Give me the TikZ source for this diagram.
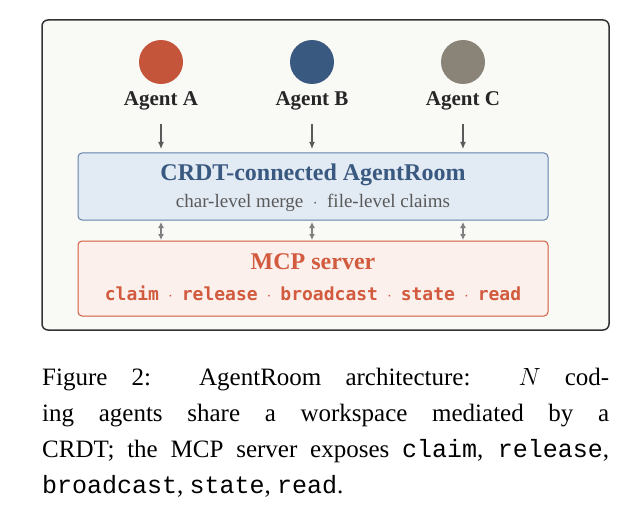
\documentclass[tikz,border=0pt]{standalone}
\usepackage{fontspec}
\setmainfont{Liberation Serif}
\setmonofont{Liberation Mono}
\newfontfamily\opsfont{DejaVu Sans Mono}
\usetikzlibrary{positioning,arrows.meta}
\definecolor{frameBg}{RGB}{249,249,246}
\definecolor{agentRed}{RGB}{196,84,58}
\definecolor{agentBlue}{RGB}{58,89,128}
\definecolor{agentGray}{RGB}{138,131,120}
\definecolor{roomFill}{RGB}{226,234,243}
\definecolor{roomLine}{RGB}{100,130,170}
\definecolor{mcpFill}{RGB}{251,240,236}
\definecolor{mcpLine}{RGB}{210,90,62}
\definecolor{arrowGray}{RGB}{90,90,90}
\tikzset{
  agent/.style={circle, minimum size=44pt, inner sep=0pt},
  agentlabel/.style={font=\fontsize{21}{24}\selectfont\bfseries, text=black!85},
  layer/.style={rounded corners=4pt, line width=1pt, minimum width=470pt, inner sep=0pt},
  feed/.style={-{Latex[length=7pt,width=6pt]}, arrowGray, line width=1.2pt},
  sync/.style={{Latex[length=6pt,width=6pt]}-{Latex[length=6pt,width=6pt]}, gray, line width=1.4pt}
}
\begin{document}
\begin{tikzpicture}[x=1pt,y=-1pt]
  \useasboundingbox (0,0) rectangle (629,524);

  % ---- outer frame ------------------------------------
  \draw[rounded corners=6pt, line width=1.5pt, fill=frameBg, draw=black!80] (42,20) rectangle (609,330);

  % ---- agents -----------------------------------------
  \node[agent, fill=agentRed]  (agA) at (161,62) {};
  \node[agent, fill=agentBlue] (agB) at (312,62) {};
  \node[agent, fill=agentGray] (agC) at (463,62) {};
  \node[agentlabel] (labA) at (161,101) {Agent A};
  \node[agentlabel] (labB) at (312,101) {Agent B};
  \node[agentlabel] (labC) at (463,101) {Agent C};

  % ---- layers -----------------------------------------
  \node[layer, fill=roomFill, draw=roomLine, minimum height=67pt] (room) at (313,186.5) {};
  \node[font=\fontsize{24}{27}\selectfont\bfseries, text=agentBlue] (roomTitle) at (313,175) {CRDT-connected AgentRoom};
  \node[font=\fontsize{19}{22}\selectfont, text=black!65] (roomSub) at (313,203) {char-level merge\enspace$\cdot$\enspace file-level claims};

  \node[layer, fill=mcpFill, draw=mcpLine, minimum height=75pt] (mcp) at (313,278.5) {};
  \node[font=\fontsize{24}{27}\selectfont\bfseries, text=mcpLine] (mcpTitle) at (313,262) {MCP server};
  \node[font=\fontsize{18}{21}\selectfont\opsfont\bfseries, text=mcpLine] (mcpOps) at (313,293)
    {claim\enspace$\cdot$\enspace release\enspace$\cdot$\enspace broadcast\enspace$\cdot$\enspace state\enspace$\cdot$\enspace read};

  % ---- connectors -------------------------------------
  \foreach \x/\n in {161/A,312/B,463/C}{
    \coordinate (top\n) at (\x,124);
    \coordinate (in\n) at (\x,149);
    \coordinate (up\n) at (\x,222);
    \coordinate (dn\n) at (\x,240);
    \draw[feed] (top\n) -- (in\n);
    \draw[sync] (up\n) -- (dn\n);
  }

  % ---- caption ----------------------------------------
  \node[anchor=north west, text width=567pt, align=justify, inner sep=0pt,
        font=\fontsize{25}{36}\selectfont] (caption) at (42,368)
    {Figure 2:\ \ AgentRoom architecture:\ \ $N$ cod-\linebreak ing agents share a workspace mediated by a\linebreak CRDT; the MCP server exposes \texttt{claim}, \texttt{release},\linebreak \texttt{broadcast}, \texttt{state}, \texttt{read}.};
\end{tikzpicture}
\end{document}
